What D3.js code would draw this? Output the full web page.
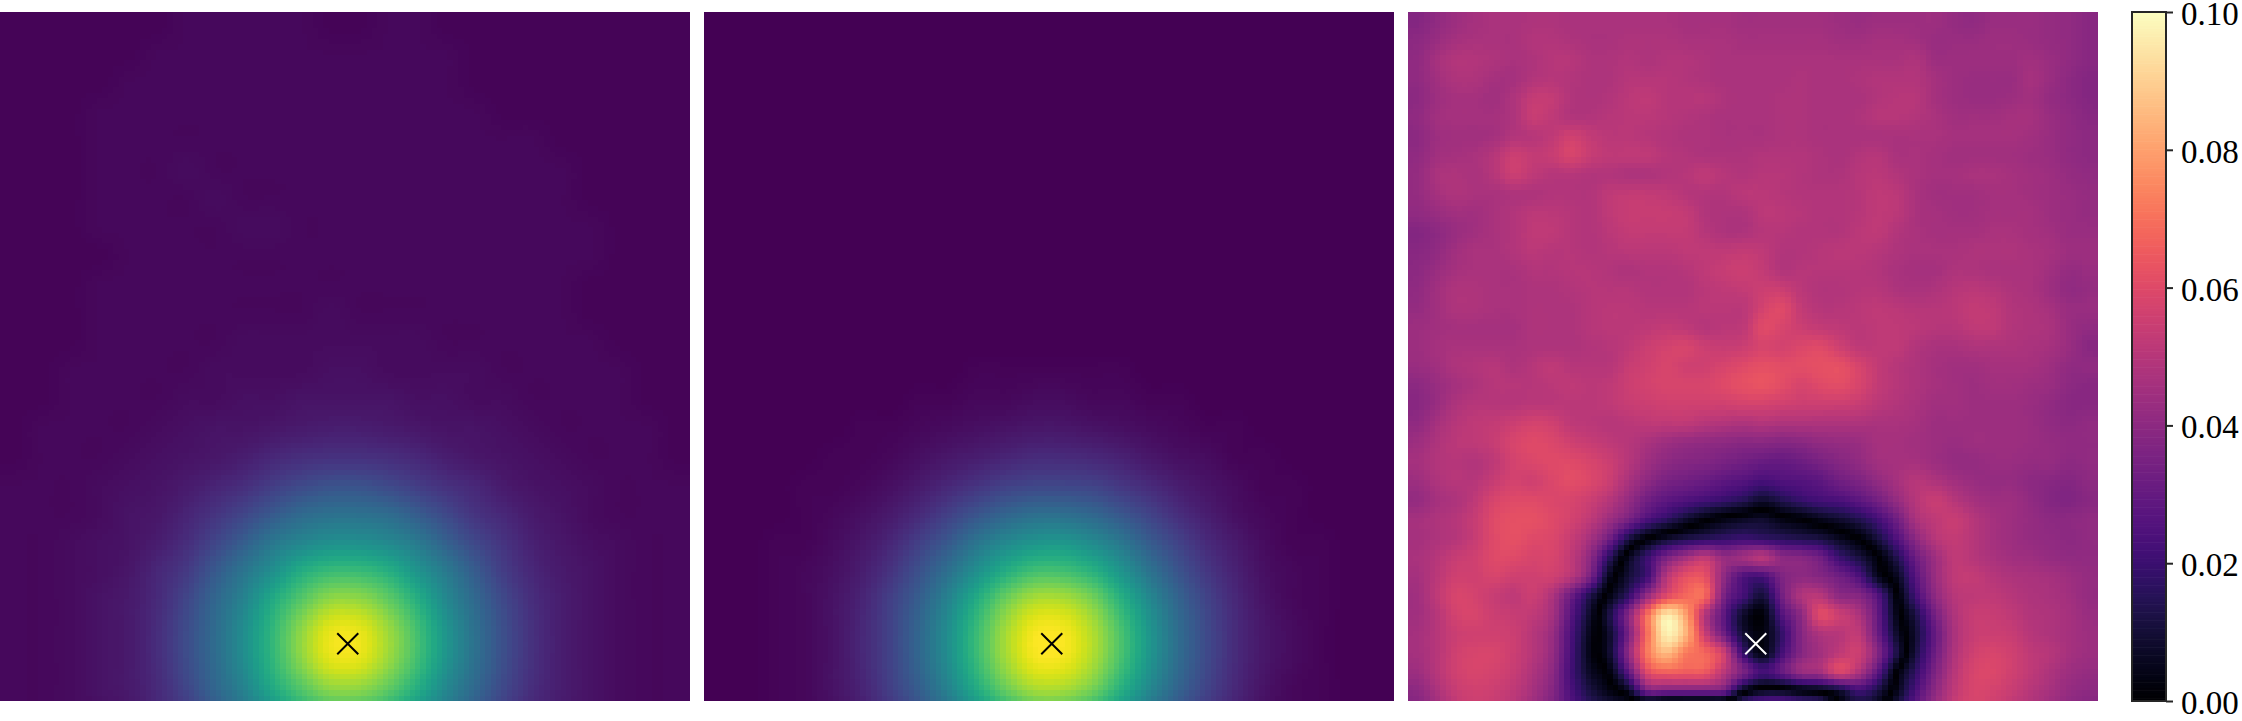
<!DOCTYPE html>
<html><head><meta charset="utf-8">
<script src="https://cdn.jsdelivr.net/npm/d3@7"></script>
<style>html,body{margin:0;padding:0;background:#fff;overflow:hidden}svg{display:block}
.cb text{font-family:"Liberation Serif",serif;font-size:34px;fill:#000}</style></head>
<body><svg id="c" width="2242" height="721"></svg>
<script>
// values: left and middle panels in percent of the maximum
const gridLeft=[
[1,1,1,1,1,1,2,2,2,2,2,1,1,2,2,1,1,1,1,1,1,1,1,1],
[1,1,1,1,1,2,2,2,2,2,2,2,2,2,2,2,1,1,1,1,1,1,1,1],
[1,1,1,1,2,2,2,2,2,2,2,2,2,2,2,2,1,1,1,1,1,1,1,1],
[1,1,1,2,2,2,2,2,2,2,2,2,2,2,2,2,2,1,1,1,1,1,1,1],
[1,1,1,2,2,2,2,2,2,2,2,2,2,2,2,2,2,2,2,1,1,1,1,1],
[1,1,1,2,2,2,3,2,2,2,2,2,2,2,2,2,2,2,2,2,1,1,1,1],
[1,1,1,2,2,2,2,3,2,2,2,2,2,2,2,2,2,2,2,2,1,1,1,1],
[1,1,1,2,2,2,2,2,3,3,2,2,2,2,2,2,2,2,2,2,2,1,1,1],
[1,1,1,1,2,2,2,2,2,2,2,2,2,2,2,2,2,2,2,2,2,1,1,1],
[1,1,1,2,2,2,2,2,2,2,2,2,2,2,2,2,2,2,2,2,1,1,1,1],
[1,1,1,2,2,2,2,2,2,2,2,3,2,2,2,2,2,2,2,2,1,1,1,1],
[1,1,1,2,2,2,2,2,3,3,3,3,3,3,3,2,2,2,2,2,2,1,1,1],
[1,1,2,2,2,2,2,3,3,3,3,4,4,3,3,3,3,2,2,2,2,2,1,1],
[1,1,2,2,2,2,3,3,4,4,5,5,5,5,4,4,3,3,2,2,2,2,1,1],
[1,2,2,2,2,3,4,5,5,6,7,8,8,7,6,5,5,4,3,2,2,2,2,1],
[1,2,2,2,3,4,5,6,8,11,13,14,14,13,11,8,6,5,4,3,2,2,2,1],
[2,2,2,3,4,5,7,10,13,18,22,25,25,22,18,14,11,7,5,4,3,2,2,2],
[2,2,2,3,5,6,10,15,21,28,34,37,37,35,29,22,15,11,7,5,3,2,2,2],
[2,2,3,4,5,8,13,21,30,40,46,50,50,47,41,31,22,15,9,6,4,3,2,2],
[2,2,3,4,6,11,17,28,39,50,62,68,68,63,52,41,29,18,11,7,5,3,2,2],
[2,2,3,5,7,12,21,33,45,61,74,84,84,76,63,47,34,22,13,8,5,3,2,2],
[2,2,3,5,7,13,23,35,49,66,83,96,96,85,70,52,37,24,14,8,5,3,2,2],
[2,2,3,5,7,13,23,35,49,66,83,96,96,85,70,52,37,24,14,8,5,3,2,2],
[2,2,3,5,7,12,21,33,45,61,74,84,84,76,63,47,34,22,13,8,5,3,2,2],
[2,2,3,4,6,11,17,28,39,50,62,68,68,63,52,41,29,18,11,7,5,3,2,2]];
const gridMiddle=[
[0,0,0,0,0,0,0,0,0,0,0,0,0,0,0,0,0,0,0,0,0,0,0,0],
[0,0,0,0,0,0,0,0,0,0,0,0,0,0,0,0,0,0,0,0,0,0,0,0],
[0,0,0,0,0,0,0,0,0,0,0,0,0,0,0,0,0,0,0,0,0,0,0,0],
[0,0,0,0,0,0,0,0,0,0,0,0,0,0,0,0,0,0,0,0,0,0,0,0],
[0,0,0,0,0,0,0,0,0,0,0,0,0,0,0,0,0,0,0,0,0,0,0,0],
[0,0,0,0,0,0,0,0,0,0,0,0,0,0,0,0,0,0,0,0,0,0,0,0],
[0,0,0,0,0,0,0,0,0,0,0,0,0,0,0,0,0,0,0,0,0,0,0,0],
[0,0,0,0,0,0,0,0,0,0,0,0,0,0,0,0,0,0,0,0,0,0,0,0],
[0,0,0,0,0,0,0,0,0,0,0,0,0,0,0,0,0,0,0,0,0,0,0,0],
[0,0,0,0,0,0,0,0,0,0,0,0,0,0,0,0,0,0,0,0,0,0,0,0],
[0,0,0,0,0,0,0,0,0,0,0,0,0,0,0,0,0,0,0,0,0,0,0,0],
[0,0,0,0,0,0,0,0,0,0,0,0,0,0,0,0,0,0,0,0,0,0,0,0],
[0,0,0,0,0,0,0,0,0,1,1,1,1,1,1,0,0,0,0,0,0,0,0,0],
[0,0,0,0,0,0,0,1,1,2,2,3,3,2,2,1,1,0,0,0,0,0,0,0],
[0,0,0,0,0,1,1,2,3,4,5,6,6,5,4,3,2,1,1,0,0,0,0,0],
[0,0,0,0,1,1,2,4,6,8,10,12,12,11,9,6,4,3,1,1,0,0,0,0],
[0,0,0,1,1,2,4,7,11,15,19,21,21,20,16,12,8,5,3,1,1,0,0,0],
[0,0,0,1,2,4,7,12,19,26,32,36,36,33,27,20,13,8,4,2,1,0,0,0],
[0,0,1,1,3,6,11,19,28,39,47,52,53,48,40,29,20,12,7,3,1,1,0,0],
[0,0,1,2,4,8,15,25,37,50,62,70,70,64,52,38,26,16,9,4,2,1,0,0],
[0,0,1,2,5,10,19,30,45,62,78,88,88,80,64,47,32,20,11,5,2,1,0,0],
[0,0,1,2,5,11,20,33,49,68,86,98,98,88,71,52,35,22,12,6,3,1,0,0],
[0,0,1,2,5,11,20,33,49,68,86,98,98,88,71,52,35,22,12,6,3,1,0,0],
[0,0,1,2,5,10,19,30,45,62,78,88,88,80,64,47,32,20,11,5,2,1,0,0],
[0,0,1,2,4,8,15,25,37,50,62,70,70,64,52,38,26,16,9,4,2,1,0,0]];
// right panel, in thousandths; negative entries lie inside the dark ring
const gridRight=[
[38,41,44,46,47,47,48,48,47,47,47,47,47,47,46,46,46,45,45,45,45,45,44,43,44,44,44,44,42,41,43,43,43,42,41,39],
[40,43,46,47,47,47,49,49,48,47,47,48,48,48,47,47,47,46,46,46,46,46,45,45,46,46,45,43,43,43,44,44,43,42,41,39],
[41,46,49,49,48,47,48,50,50,48,48,49,48,49,49,48,47,47,47,47,47,47,47,47,47,47,48,44,44,44,44,44,45,43,41,39],
[41,45,48,48,46,46,49,50,49,48,48,50,50,50,49,48,47,47,47,47,48,47,47,48,49,49,49,46,44,43,43,43,46,43,40,38],
[40,44,46,46,45,48,53,53,49,48,49,51,52,50,50,50,48,47,47,48,48,47,47,47,49,50,50,46,44,43,43,44,45,42,40,38],
[41,45,46,46,46,48,54,52,49,49,50,51,51,50,49,48,47,47,47,48,48,47,47,48,50,50,49,47,45,45,45,46,46,43,41,39],
[40,44,45,45,46,49,50,52,56,53,51,51,50,49,48,48,47,47,47,48,48,47,47,47,47,47,47,47,46,46,46,46,45,43,41,40],
[41,45,46,47,50,55,53,54,58,54,52,52,52,50,49,48,48,48,49,49,49,48,47,49,50,47,47,46,45,45,45,45,44,43,41,40],
[42,47,48,47,50,55,52,50,50,49,49,48,48,49,50,52,50,49,50,50,49,48,48,50,51,49,47,46,46,47,47,46,45,44,42,41],
[42,46,48,47,47,48,48,49,49,49,52,53,53,52,50,49,49,51,51,50,49,49,49,50,52,51,47,45,45,45,46,46,45,44,43,42],
[41,43,45,45,47,49,51,51,50,49,52,54,54,54,53,49,48,48,51,51,50,49,49,50,52,51,47,46,45,45,46,46,46,44,43,42],
[38,40,43,45,47,49,52,52,50,49,51,53,53,53,53,50,48,48,50,50,49,49,49,51,52,49,47,46,46,46,47,47,46,45,43,43],
[39,41,45,47,47,49,51,50,50,49,50,51,51,51,52,52,52,53,52,49,49,50,51,51,50,48,47,47,47,48,48,48,47,46,44,44],
[40,43,46,47,47,47,49,49,50,50,49,48,49,49,50,52,54,55,53,49,50,50,50,50,49,47,46,46,48,48,47,47,47,45,42,43],
[41,45,48,48,47,47,48,48,49,50,50,50,49,49,49,51,52,53,55,55,51,49,49,50,50,48,47,48,50,51,50,48,47,44,41,42],
[42,45,48,48,47,47,48,48,48,50,51,51,50,50,50,51,51,51,57,60,53,50,50,51,52,51,50,50,51,53,52,49,48,46,43,43],
[44,45,46,46,46,46,48,48,48,50,51,51,52,53,52,50,51,52,60,58,55,53,52,51,52,52,51,50,50,52,52,49,48,47,43,41],
[44,46,47,47,47,47,48,48,48,49,50,52,55,57,58,55,54,55,58,57,59,60,56,52,52,52,49,47,47,48,48,48,47,46,43,39],
[43,45,48,49,50,48,50,52,50,50,50,54,56,58,56,56,58,60,62,61,61,62,62,58,53,50,48,46,45,45,46,46,46,44,41,41],
[40,43,46,48,50,50,50,51,52,51,52,55,57,58,58,58,60,62,63,61,58,60,61,58,53,50,48,46,45,44,45,45,44,43,40,39],
[39,43,48,50,50,50,51,51,51,51,52,54,55,56,56,56,56,57,57,56,55,55,55,54,51,49,47,45,45,44,44,44,43,41,39,39],
[41,46,50,52,53,55,57,56,52,51,50,51,52,52,52,50,49,48,49,48,48,48,48,48,47,47,46,44,44,44,44,44,43,41,40,41],
[44,48,51,52,54,58,60,59,56,54,52,50,47,44,42,41,40,39,39,38,39,41,42,43,46,46,45,44,43,44,44,44,43,42,41,41],
[46,49,50,49,52,57,59,60,60,58,55,50,44,40,38,37,35,33,31,30,32,35,38,41,45,46,46,44,42,42,43,43,42,42,40,41],
[44,48,50,50,54,57,56,59,61,59,55,47,40,35,33,31,28,26,23,25,26,28,33,36,41,46,50,48,45,43,42,42,40,39,38,40],
[42,46,48,52,58,60,60,59,58,55,50,42,33,28,25,22,19,15,9,14,19,22,24,28,34,42,50,54,50,46,44,44,41,38,37,39],
[46,48,50,54,60,62,62,60,57,52,44,35,24,17,9,2,-3,-6,-8,-3,0,5,9,14,22,33,47,52,54,50,46,44,42,40,40,41],
[46,48,50,54,60,62,60,59,54,46,33,13,0,-8,-13,-16,-18,-20,-18,-16,-14,-12,-6,0,11,25,40,50,53,50,46,44,42,41,40,41],
[47,50,54,56,60,60,58,58,52,40,17,-5,-20,-35,-45,-52,-42,-45,-50,-40,-38,-33,-20,-12,-1,14,32,44,52,50,47,45,44,42,41,41],
[46,51,56,56,58,56,56,56,50,35,6,-10,-22,-50,-62,-62,-40,-25,-23,-36,-40,-38,-33,-25,-6,6,27,43,52,53,50,48,47,46,44,42],
[45,52,58,57,54,52,55,48,32,14,-3,-18,-42,-60,-68,-68,-35,-22,-11,-33,-48,-50,-40,-38,-26,-1,22,40,50,52,52,50,48,47,45,42],
[45,50,57,58,55,54,52,46,27,8,-12,-38,-70,-95,-80,-50,-28,-8,-2,-25,-40,-60,-55,-48,-30,-4,13,34,48,54,54,52,49,48,46,43],
[46,50,55,56,56,55,50,43,24,5,-8,-35,-70,-97,-84,-55,-32,-10,-3,-18,-38,-48,-50,-52,-32,-8,10,30,47,54,55,54,50,48,46,44],
[46,50,56,58,58,55,50,42,23,4,-8,-40,-72,-85,-72,-68,-55,-20,-4,-22,-38,-45,-52,-55,-38,-12,12,32,48,56,58,56,52,50,46,44],
[44,50,56,58,57,54,48,40,22,7,-2,-28,-60,-66,-65,-64,-50,-35,-22,-30,-42,-45,-58,-48,-28,0,18,36,50,58,59,56,52,48,44,42],
[40,47,54,56,55,52,46,38,24,12,4,-6,-32,-32,-32,-32,-30,-3,7,7,2,-1,-8,-20,-12,5,24,40,52,58,57,54,50,46,42,40],
[38,45,52,55,54,50,44,36,26,18,14,14,30,38,38,38,38,38,42,42,35,30,-4,-8,-4,14,30,44,54,58,56,52,48,44,40,38]];
const panelLefts=[0,704,1408];
const tickValues=[0,0.02,0.04,0.06,0.08,0.1];
const markerPoint=[0.504,0.917];
const markerColours=["#000","#000","#fff"];

const svg=d3.select("#c");
const W=690,T=12,B=701,N=128;
const panelX=d3.scaleLinear([0,1],[0,W]), panelY=d3.scaleLinear([0,1],[T,B]);
const viridis=d3.scaleSequential(d3.interpolateViridis).domain([0,100]);
const magma=d3.scaleSequential(d3.interpolateMagma).domain([0,100]);
function cr(a,b,c,d,t){return 0.5*(2*b+(c-a)*t+(2*a-5*b+4*c-d)*t*t+(3*b-a-3*c+d)*t*t*t);}
function sample(g,units,u,v){
  const nr=g.length,nc=g[0].length;
  const fx=u*units-0.5,fy=v*units-0.5;
  const ix=Math.floor(fx),iy=Math.floor(fy),tx=fx-ix,ty=fy-iy;
  const col=(r,i)=>g[Math.max(0,Math.min(nr-1,r))][Math.max(0,Math.min(nc-1,i))];
  const row=k=>cr(col(k,ix-1),col(k,ix),col(k,ix+1),col(k,ix+2),tx);
  return cr(row(iy-1),row(iy),row(iy+1),row(iy+2),ty);
}
function panelImage(g,units,colour,clampLow){
  const cv=document.createElement("canvas");cv.width=N;cv.height=N;
  const ctx=cv.getContext("2d");
  const cell=d3.scaleBand(d3.range(N),[0,1]);
  for(let j=0;j<N;j++)for(let i=0;i<N;i++){
    const s=sample(g,units,cell(i)+cell.bandwidth()/2,cell(j)+cell.bandwidth()/2);
    ctx.fillStyle=colour(clampLow?Math.max(0,s):Math.abs(s));
    ctx.fillRect(i,j,1,1);
  }
  return cv.toDataURL();
}
const images=[panelImage(gridLeft,24,viridis,true),panelImage(gridMiddle,24,viridis,true),panelImage(gridRight,36,magma,false)];
images.forEach((href,k)=>{
  const g=svg.append("g").attr("transform",`translate(${panelLefts[k]},0)`);
  g.append("image").attr("href",href).attr("x",panelX(0)).attr("y",panelY(0))
   .attr("width",panelX(1)-panelX(0)).attr("height",panelY(1)-panelY(0))
   .attr("preserveAspectRatio","none").style("image-rendering","pixelated");
  g.append("path").attr("d",d3.symbol(d3.symbolX,290)())
   .attr("transform",`translate(${panelX(markerPoint[0])},${panelY(markerPoint[1])})`)
   .attr("fill","none").attr("stroke",markerColours[k]).attr("stroke-width",2);
});
// colour bar
const barX=2132,barW=34;
const barY=d3.scaleLinear([0,0.1],[B,T]);
const barColour=d3.scaleSequential(d3.interpolateMagma).domain([0,0.1]);
const cb=svg.append("g").attr("class","cb");
const steps=d3.range(256).map(i=>i/256*0.1);
cb.selectAll("rect.s").data(steps).join("rect").attr("class","s")
  .attr("x",barX).attr("width",barW)
  .attr("y",d=>barY(d+0.1/256)).attr("height",d=>barY(d)-barY(d+0.1/256)+0.6)
  .attr("fill",d=>barColour(d));
cb.append("rect").attr("x",barX).attr("y",T).attr("width",barW).attr("height",B-T)
  .attr("fill","none").attr("stroke","#262626").attr("stroke-width",2);
const axis=d3.axisRight(barY).tickValues(tickValues).tickFormat(d3.format(".2f")).tickSize(7).tickPadding(8);
const ag=cb.append("g").attr("transform",`translate(${barX+barW},0)`).call(axis);
ag.select(".domain").remove();
ag.selectAll("line").attr("stroke","#262626").attr("stroke-width",2);
ag.selectAll("text").attr("fill","#000").attr("dy","0.38em").style("font-family","'Liberation Serif',serif").style("font-size","33px");
</script></body></html>
